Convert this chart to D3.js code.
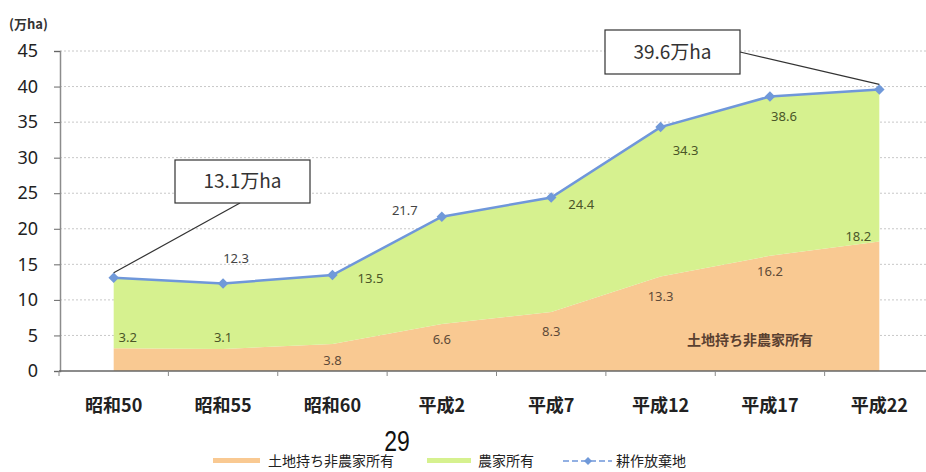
<!DOCTYPE html>
<html><head><meta charset="utf-8">
<script src="https://cdn.jsdelivr.net/npm/d3@7"></script>
<style>
body{margin:0;background:#fff;}
svg{display:block;}
</style></head>
<body>
<svg id="c" width="926" height="472"></svg>
<script>
const categories = ["昭和50","昭和55","昭和60","平成2","平成7","平成12","平成17","平成22"];
const nonFarmOwned = [3.2, 3.1, 3.8, 6.6, 8.3, 13.3, 16.2, 18.2];
const abandonedTotal = [13.1, 12.3, 13.5, 21.7, 24.4, 34.3, 38.6, 39.6];
const yTicks = [0,5,10,15,20,25,30,35,40,45];
const seriesNames = ["土地持ち非農家所有","農家所有","耕作放棄地"];
const farmOwned = abandonedTotal.map((t,i)=> +(t - nonFarmOwned[i]).toFixed(1));
// label offsets (px) relative to each point
const totalLabelOffsets = [null,[13,-25],[38,3],[-37,-6],[30,7],[25,23],[14,20],null];
const nonFarmLabelOffsets = [[14,-11],[0,-12],[0,16],[0,15],[0,19],[0,20],[0,16],[-21,-5]];

const svg = d3.select("#c");
const font = "'Noto Sans CJK JP','Noto Sans',sans-serif";
const numFont = "'Noto Sans','Open Sans',sans-serif";
const y = d3.scaleLinear().domain([0,45]).range([371,51]);
const x = d3.scaleBand().domain(categories).range([59,934]).padding(0);
const cx = c => x(c) + x.bandwidth()/2;
const diamond = d3.symbolDiamond2 || d3.symbolDiamond;

// gridlines
svg.append("g").selectAll("line").data(yTicks.filter(d=>d>0)).join("line")
  .attr("x1",60).attr("x2",926).attr("y1",d=>y(d)).attr("y2",d=>y(d))
  .attr("stroke","#c8c8c8").attr("stroke-width",1).attr("stroke-dasharray","2,2");

// stacked areas
const stackData = categories.map((c,i)=>({c, a: nonFarmOwned[i], b: farmOwned[i]}));
const stack = d3.stack().keys(["a","b"])(stackData);
const area = d3.area().x(d=>cx(d.data.c)).y0(d=>y(d[0])).y1(d=>y(d[1]));
const areaColors = ["#f9c992","#d6f18f"];
svg.append("g").selectAll("path").data(stack).join("path")
  .attr("d",area).attr("fill",(d,i)=>areaColors[i]);

// axes
const yAxis = d3.axisLeft(y).tickValues(yTicks).tickSize(6).tickPadding(16);
const gy = svg.append("g").attr("transform","translate(60,0)").call(yAxis);
gy.select(".domain").attr("stroke","#8c8c8c").attr("stroke-width",1.5);
gy.selectAll(".tick line").attr("stroke","#666");
gy.selectAll("text").attr("font-family",numFont).attr("font-size",18).attr("fill","#222");

const gx = svg.append("g").attr("transform","translate(0,371)");
gx.append("line").attr("x1",59).attr("x2",926).attr("y1",0).attr("y2",0).attr("stroke","#666").attr("stroke-width",1.5);
gx.selectAll("line.t").data(categories).join("line").attr("class","t")
  .attr("x1",d=>x(d)).attr("x2",d=>x(d)).attr("y1",0).attr("y2",5).attr("stroke","#888");
gx.selectAll("text").data(categories).join("text")
  .attr("x",d=>cx(d)).attr("y",41).attr("text-anchor","middle")
  .attr("font-family",font).attr("font-size",18).attr("font-weight","bold").attr("fill","#222")
  .text(d=>d);

svg.append("text").attr("x",9).attr("y",29).attr("font-family",font).attr("font-size",13).attr("font-weight","bold").attr("fill","#333").text("(万ha)");

// line
const line = d3.line().x((d,i)=>cx(categories[i])).y(d=>y(d));
svg.append("path").datum(abandonedTotal).attr("d",line).attr("fill","none").attr("stroke","#6f97da").attr("stroke-width",2.5);
svg.append("g").selectAll("path").data(abandonedTotal).join("path")
  .attr("d",d3.symbol(diamond,70)())
  .attr("transform",(d,i)=>`translate(${cx(categories[i])},${y(d)})`)
  .attr("fill","#7099d9");

// data labels
const lab = svg.append("g").attr("font-family",numFont).attr("font-size",13).attr("text-anchor","middle");
abandonedTotal.forEach((v,i)=>{
  const o = totalLabelOffsets[i]; if(!o) return;
  lab.append("text").attr("x",cx(categories[i])+o[0]).attr("y",y(v)+o[1]).attr("dy","0.35em")
    .attr("fill", o[1] < -10 || o[0] < -20 ? "#444" : "#4a5628").text(v.toFixed(1));
});
nonFarmOwned.forEach((v,i)=>{
  const o = nonFarmLabelOffsets[i];
  lab.append("text").attr("x",cx(categories[i])+o[0]).attr("y",y(v)+o[1]).attr("dy","0.35em")
    .attr("fill", (i<2||i===7) ? "#4a5628" : "#5e4a38").text(v.toFixed(1));
});
svg.append("text").attr("x",750).attr("y",y(nonFarmOwned[5])+64).attr("dy","0.35em").attr("text-anchor","middle")
  .attr("font-family",font).attr("font-size",14).attr("font-weight","bold").attr("fill","#5a4030").text(seriesNames[0]);

// callouts
function callout(i, bx, by, bw, bh, ax, ay){
  const px = cx(categories[i]), py = y(abandonedTotal[i]);
  svg.append("line").attr("x1",ax).attr("y1",ay).attr("x2",px).attr("y2",py-5).attr("stroke","#333").attr("stroke-width",1.2);
  svg.append("rect").attr("x",bx).attr("y",by).attr("width",bw).attr("height",bh).attr("fill","#fff").attr("stroke","#333").attr("stroke-width",1.2);
  svg.append("text").attr("x",bx+bw/2).attr("y",by+bh/2).attr("dy","0.36em").attr("text-anchor","middle")
    .attr("font-family",font).attr("font-size",19).attr("fill","#333").text(abandonedTotal[i].toFixed(1)+"万ha");
}
callout(0, 175, 160, 135, 43, 240, 203);
callout(7, 605, 30, 135, 44, 740, 52);

// page number
svg.append("text").attr("text-anchor","middle").attr("font-family","'Liberation Sans',sans-serif")
  .attr("font-size",27).attr("fill","#111")
  .attr("transform","translate(397,451) scale(0.85,1.1)").text("29");

// legend
const lg = svg.append("g").attr("font-family",font).attr("font-size",14).attr("fill","#222");
lg.append("rect").attr("x",213).attr("y",458).attr("width",47).attr("height",5).attr("fill",areaColors[0]);
lg.append("text").attr("x",268).attr("y",466).text(seriesNames[0]);
lg.append("rect").attr("x",427).attr("y",458).attr("width",44).attr("height",5).attr("fill",areaColors[1]);
lg.append("text").attr("x",478).attr("y",466).text(seriesNames[1]);
lg.append("line").attr("x1",563).attr("x2",612).attr("y1",461).attr("y2",461).attr("stroke","#6f97da").attr("stroke-width",1.5).attr("stroke-dasharray","6,3");
lg.append("path").attr("d",d3.symbol(diamond,40)()).attr("transform","translate(588,461)").attr("fill","#7099d9");
lg.append("text").attr("x",616).attr("y",466).text(seriesNames[2]);
</script>
</body></html>
